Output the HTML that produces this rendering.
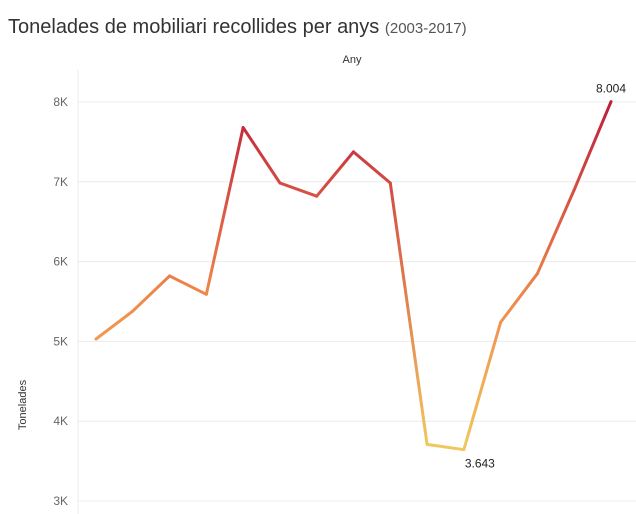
<!DOCTYPE html>
<html><head><meta charset="utf-8"><style>
body{margin:0;background:#fff;font-family:"Liberation Sans",sans-serif;}
svg{display:block}
</style></head><body>
<svg id="chart" width="636" height="514">
<text x="8" y="33" font-size="20" fill="#333">Tonelades de mobiliari recollides per anys <tspan font-size="15" fill="#555">(2003-2017)</tspan></text>
<text x="352" y="63" font-size="11" fill="#333" text-anchor="middle">Any</text>
<text x="26" y="405" font-size="11" fill="#333" text-anchor="middle" transform="rotate(-90 26 405)">Tonelades</text>
<line x1="78" y1="70" x2="78" y2="514" stroke="#eee"/>
<g id="grid"></g><g id="lines"></g><g id="labels"></g>
</svg>
<script>
const years=[2003,2004,2005,2006,2007,2008,2009,2010,2011,2012,2013,2014,2015,2016,2017];
const values=[5030,5380,5820,5590,7680,6985,6820,7375,6985,3710,3643,5240,5850,6900,8004];
const ticks=[3000,4000,5000,6000,7000,8000];
const tickLabels=["3K","4K","5K","6K","7K","8K"];
const labelled=[[10,"3.643"],[14,"8.004"]];
const NS="http://www.w3.org/2000/svg";
const x=i=>96+i*(611-96)/(years.length-1);
const y=v=>102+(8000-v)*0.0798;
function color(v){
  const t=Math.max(0,Math.min(1,(v-3643)/(8004-3643)));
  const stops=[[0,[240,200,95]],[0.45,[240,135,75]],[1,[190,30,60]]];
  for(let k=0;k<stops.length-1;k++){const a=stops[k],b=stops[k+1];
    if(t<=b[0]){const u=(t-a[0])/(b[0]-a[0]);return "rgb("+a[1].map((c,j)=>Math.round(c+(b[1][j]-c)*u)).join(",")+")";}}
  return "rgb(190,30,60)";
}
const svg=document.getElementById("chart");
const grid=document.getElementById("grid");
ticks.forEach((t,i)=>{
  const l=document.createElementNS(NS,"line");
  
  
  l.setAttribute("x1",78);l.setAttribute("x2",636);l.setAttribute("y1",y(t));l.setAttribute("y2",y(t));
  l.setAttribute("stroke","#ececec");grid.appendChild(l);
  const tx=document.createElementNS(NS,"text");
  
  
  tx.setAttribute("x",68);tx.setAttribute("y",y(t)+4);tx.setAttribute("text-anchor","end");
  tx.setAttribute("font-size","12");tx.setAttribute("fill","#666");tx.textContent=tickLabels[i];grid.appendChild(tx);
});
const defs=document.createElementNS(NS,"defs");svg.appendChild(defs);
const lines=document.getElementById("lines");
for(let i=0;i<values.length-1;i++){
  const g=document.createElementNS(NS,"linearGradient");
  g.setAttribute("id","g"+i);g.setAttribute("gradientUnits","userSpaceOnUse");
  g.setAttribute("x1",x(i));g.setAttribute("y1",y(values[i]));g.setAttribute("x2",x(i+1));g.setAttribute("y2",y(values[i+1]));
  const s1=document.createElementNS(NS,"stop");s1.setAttribute("offset","0");s1.setAttribute("stop-color",color(values[i]));
  const s2=document.createElementNS(NS,"stop");s2.setAttribute("offset","1");s2.setAttribute("stop-color",color(values[i+1]));
  g.appendChild(s1);g.appendChild(s2);defs.appendChild(g);
  const l=document.createElementNS(NS,"line");
  
  
  l.setAttribute("x1",x(i));l.setAttribute("y1",y(values[i]));l.setAttribute("x2",x(i+1));l.setAttribute("y2",y(values[i+1]));
  l.setAttribute("stroke","url(#g"+i+")");l.setAttribute("stroke-width","3");l.setAttribute("stroke-linecap","round");
  lines.appendChild(l);
}
const lab=document.getElementById("labels");
labelled.forEach(([i,txt])=>{
  const t=document.createElementNS(NS,"text");
  
  
  const last=i===values.length-1;
  t.setAttribute("x",last?x(i):x(i)+16);
  t.setAttribute("y",last?y(values[i])-9:y(values[i])+18);
  t.setAttribute("text-anchor","middle");t.setAttribute("font-size","12");t.setAttribute("fill","#222");
  t.textContent=txt;lab.appendChild(t);
});
</script>
</body></html>
